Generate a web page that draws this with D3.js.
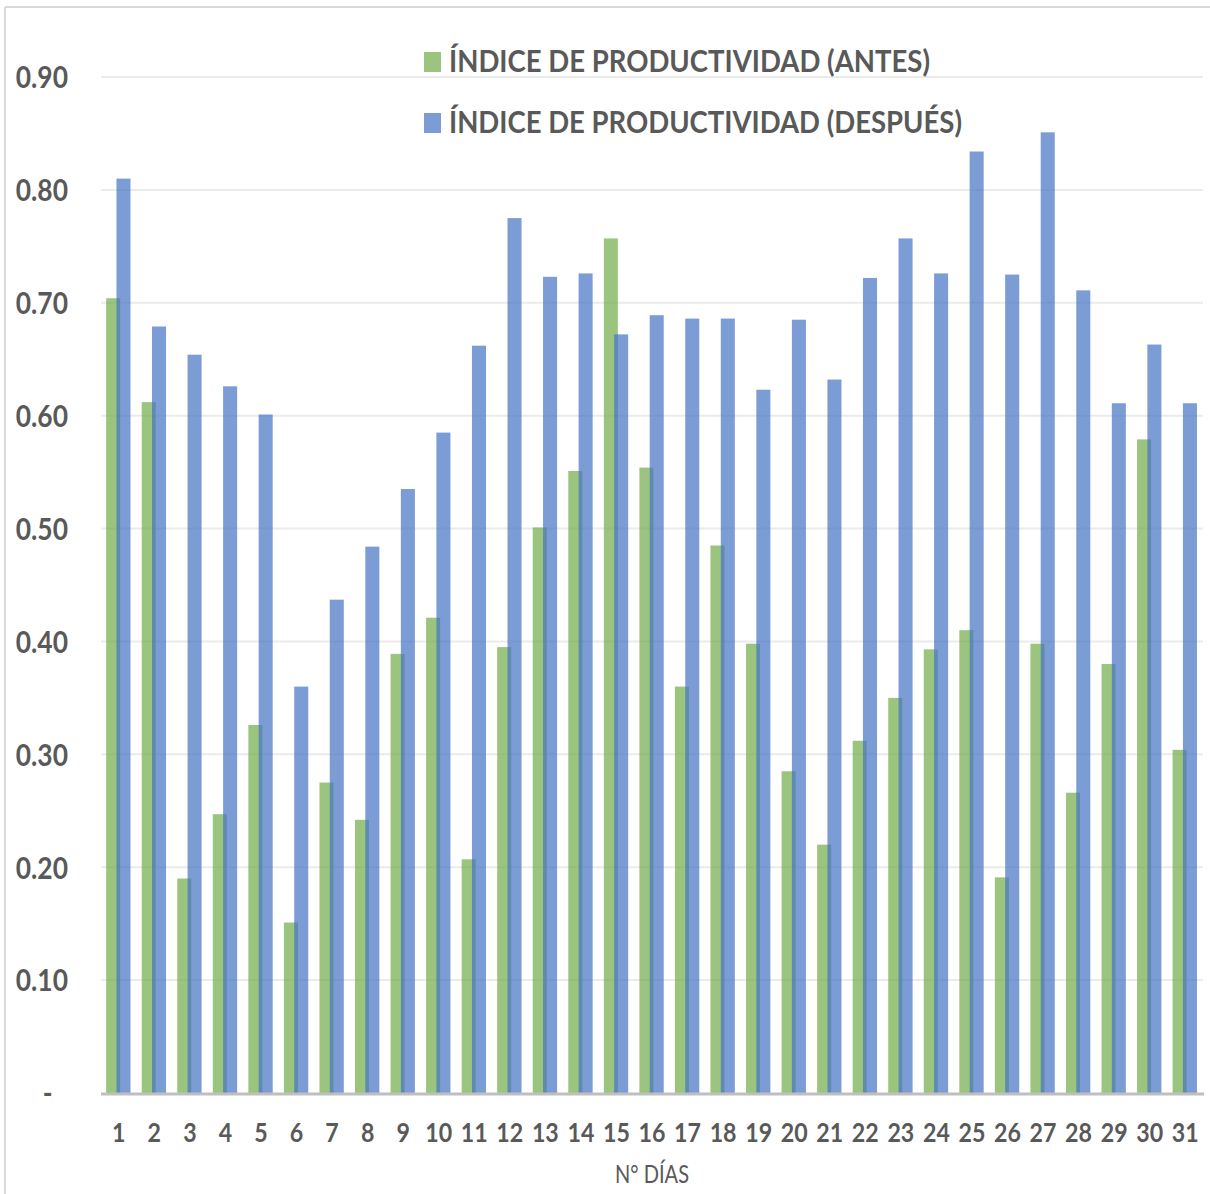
<!DOCTYPE html>
<html>
<head>
<meta charset="utf-8">
<script src="https://cdn.jsdelivr.net/npm/d3@7"></script>
<style>
  html, body { margin: 0; padding: 0; background: #ffffff; }
  svg { display: block; }
</style>
</head>
<body>
<div id="chart"></div>
<script>
// Productivity index per day, before and after the improvement
const days = d3.range(1, 32).map(String);
const antes = [0.704, 0.612, 0.190, 0.247, 0.326, 0.151, 0.275, 0.242, 0.389, 0.421,
               0.207, 0.395, 0.501, 0.551, 0.757, 0.554, 0.360, 0.485, 0.398, 0.285,
               0.220, 0.312, 0.350, 0.393, 0.410, 0.191, 0.398, 0.266, 0.380, 0.579, 0.304];
const despues = [0.810, 0.679, 0.654, 0.626, 0.601, 0.360, 0.437, 0.484, 0.535, 0.585,
                 0.662, 0.775, 0.723, 0.726, 0.672, 0.689, 0.686, 0.686, 0.623, 0.685,
                 0.632, 0.722, 0.757, 0.726, 0.834, 0.725, 0.851, 0.711, 0.611, 0.663, 0.611];
const yTicks = [0, 0.1, 0.2, 0.3, 0.4, 0.5, 0.6, 0.7, 0.8, 0.9];
const seriesNames = ["ÍNDICE DE PRODUCTIVIDAD (ANTES)", "ÍNDICE DE PRODUCTIVIDAD (DESPUÉS)"];
const seriesColors = ["#70AD47", "#4472C4"];
const xTitle = "N° DÍAS";

const W = 1210, H = 1194;
const plot = { left: 101, right: 1203, top: 77, bottom: 1093 };

const svg = d3.select("#chart").append("svg")
  .attr("width", W).attr("height", H);

// outer frame (top and left edges)
svg.append("line").attr("x1", 5).attr("x2", W).attr("y1", 7).attr("y2", 7)
  .attr("stroke", "#d9d9d9").attr("stroke-width", 2);
svg.append("line").attr("x1", 5).attr("x2", 5).attr("y1", 7).attr("y2", H)
  .attr("stroke", "#d9d9d9").attr("stroke-width", 2);

const x = d3.scaleBand().domain(days).range([plot.left, plot.right]).padding(0);
const y = d3.scaleLinear().domain([0, 0.9]).range([plot.bottom, plot.top]);

// horizontal gridlines
svg.append("g").selectAll("line")
  .data(yTicks.filter(d => d > 0))
  .join("line")
  .attr("x1", plot.left).attr("x2", plot.right)
  .attr("y1", d => y(d)).attr("y2", d => y(d))
  .attr("stroke", "#ebebeb").attr("stroke-width", 2);

// bars: two series per day, the second overlapping the first slightly
const step = x.step();
const barW = step * 0.395;
const offsets = [-step * 0.355, -step * 0.065];
const series = [antes, despues];

series.forEach((vals, si) => {
  svg.append("g").selectAll("rect")
    .data(vals)
    .join("rect")
    .attr("x", (d, i) => x(days[i]) + step / 2 + offsets[si])
    .attr("width", barW)
    .attr("y", d => y(d))
    .attr("height", d => y(0) - y(d))
    .attr("fill", seriesColors[si])
    .attr("fill-opacity", 0.7);
});

// category axis line
svg.append("line")
  .attr("x1", plot.left).attr("x2", plot.right + 1)
  .attr("y1", y(0) + 1).attr("y2", y(0) + 1)
  .attr("stroke", "#bfbfbf").attr("stroke-width", 3);

const labelFont = "Lato, 'Open Sans', sans-serif";

// y axis labels (narrowed horizontally around their right edge)
const yAxis = d3.axisLeft(y).tickValues(yTicks).tickSize(0)
  .tickFormat(d => d === 0 ? "-" : d3.format(".2f")(d));
const gy = svg.append("g").attr("transform", `translate(68,0)`).call(yAxis);
gy.select(".domain").remove();
gy.selectAll("text")
  .attr("x", 0)
  .attr("dy", "0.36em")
  .attr("fill", "#595959")
  .attr("transform", "scale(0.88,1)")
  .style("font-family", labelFont)
  .style("font-weight", 700)
  .style("font-size", "30px")
  .filter(d => d === 0)
  .attr("text-anchor", "middle")
  .attr("x", -23);

// x axis labels (narrowed horizontally around their centre)
const xAxis = d3.axisBottom(x).tickSize(0);
const gx = svg.append("g").attr("transform", `translate(0,${plot.bottom})`).call(xAxis);
gx.select(".domain").remove();
gx.selectAll("text")
  .attr("y", 0)
  .attr("dy", "49px")
  .attr("fill", "#595959")
  .attr("transform", "scale(0.86,1)")
  .style("font-family", labelFont)
  .style("font-weight", 700)
  .style("font-size", "27px");

// x axis title
svg.append("text")
  .attr("x", 652).attr("y", 1183)
  .attr("text-anchor", "middle")
  .attr("fill", "#595959")
  .attr("textLength", 74).attr("lengthAdjust", "spacingAndGlyphs")
  .style("font-family", labelFont)
  .style("font-size", "25px")
  .text(xTitle);

// legend
const legend = svg.append("g");
const legendRows = [{ y: 72, w: 481 }, { y: 133, w: 513 }];
seriesNames.forEach((name, i) => {
  const row = legendRows[i];
  legend.append("rect")
    .attr("x", 424).attr("y", row.y - 20)
    .attr("width", 17).attr("height", 20)
    .attr("fill", seriesColors[i]).attr("fill-opacity", 0.7);
  legend.append("text")
    .attr("x", 449).attr("y", row.y)
    .attr("fill", "#595959")
    .attr("textLength", row.w).attr("lengthAdjust", "spacingAndGlyphs")
    .style("font-family", labelFont)
    .style("font-weight", 700)
    .style("font-size", "30px")
    .text(name);
});
</script>
</body>
</html>
